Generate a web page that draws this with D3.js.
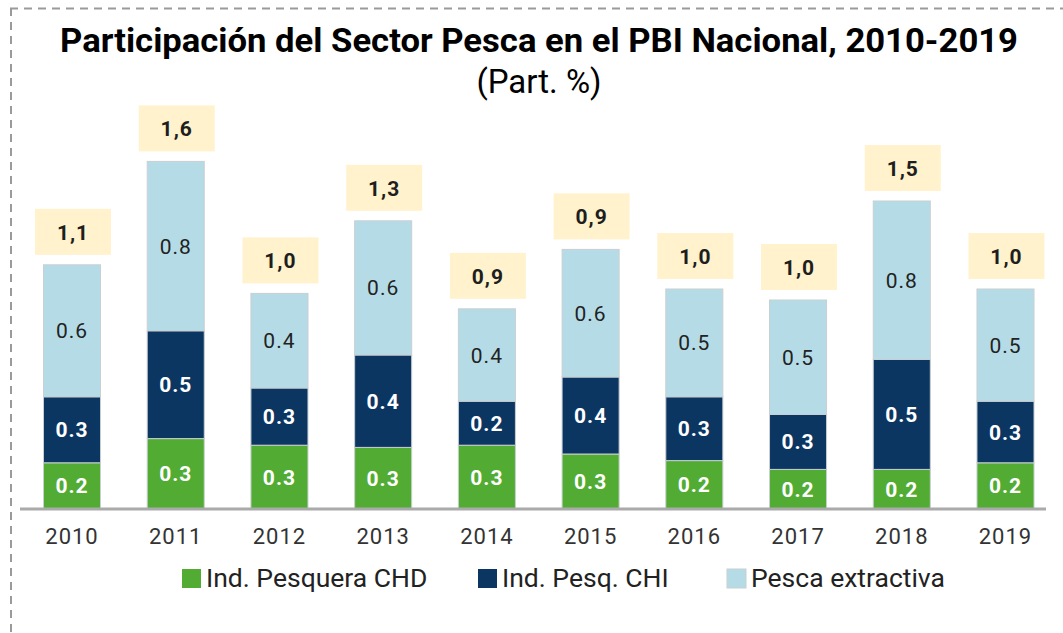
<!DOCTYPE html>
<html><head><meta charset="utf-8">
<script src="https://cdn.jsdelivr.net/npm/d3@7"></script>
<style>
html,body{margin:0;padding:0;background:#fff;}
text{font-family:Roboto,"Noto Sans",sans-serif;}
</style></head>
<body><svg id="c" width="1063" height="633"></svg>
<script>
const years = ["2010","2011","2012","2013","2014","2015","2016","2017","2018","2019"];
const chd = [0.21,0.32,0.29,0.28,0.29,0.25,0.22,0.18,0.18,0.21];
const chi = [0.30,0.49,0.26,0.42,0.20,0.35,0.29,0.25,0.50,0.28];
const extractiva = [0.60,0.77,0.43,0.61,0.42,0.58,0.49,0.52,0.72,0.51];
const chdLabels = ["0.2","0.3","0.3","0.3","0.3","0.3","0.2","0.2","0.2","0.2"];
const chiLabels = ["0.3","0.5","0.3","0.4","0.2","0.4","0.3","0.3","0.5","0.3"];
const extLabels = ["0.6","0.8","0.4","0.6","0.4","0.6","0.5","0.5","0.8","0.5"];
const totalLabels = ["1,1","1,6","1,0","1,3","0,9","0,9","1,0","1,0","1,5","1,0"];
const seriesNames = ["Ind. Pesquera CHD","Ind. Pesq. CHI","Pesca extractiva"];
const colors = ["#52ac34","#0b3662","#b5dce6"];
const labelColors = ["#ffffff","#ffffff","#222222"];

const svg = d3.select("#c");
// dashed frame
svg.append("line").attr("x1",10).attr("y1",8.5).attr("x2",1063).attr("y2",8.5)
  .attr("stroke","#9a9a9a").attr("stroke-width",2).attr("stroke-dasharray","8,6");
svg.append("line").attr("x1",11).attr("y1",8).attr("x2",11).attr("y2",633)
  .attr("stroke","#9a9a9a").attr("stroke-width",2).attr("stroke-dasharray","8,6");

svg.append("text").attr("x",539).attr("y",52).attr("text-anchor","middle")
  .attr("font-size",33).attr("font-weight","bold").attr("fill","#000")
  .attr("textLength",958).attr("lengthAdjust","spacingAndGlyphs")
  .text("Participación del Sector Pesca en el PBI Nacional, 2010-2019");
svg.append("text").attr("x",539).attr("y",93).attr("text-anchor","middle")
  .attr("font-size",33).attr("fill","#000").text("(Part. %)");

const data = years.map((y,i)=>({year:y, chd:chd[i], chi:chi[i], ext:extractiva[i]}));
const keys = ["chd","chi","ext"];
const labs = {chd:chdLabels, chi:chiLabels, ext:extLabels};
const stack = d3.stack().keys(keys)(data);

const x = d3.scaleBand().domain(years).range([20.15,1057.35]).paddingInner(0.45).paddingOuter(0.225);
const y = d3.scaleLinear().domain([0,1.6]).range([509,157]);

const g = svg.append("g");
stack.forEach((s,si)=>{
  g.selectAll(null).data(s).enter().append("rect")
    .attr("x",d=>x(d.data.year)).attr("width",x.bandwidth())
    .attr("y",d=>y(d[1])).attr("height",d=>y(d[0])-y(d[1]))
    .attr("fill",colors[si]).attr("stroke","#c9cfd2").attr("stroke-width",1);
  g.selectAll(null).data(s).enter().append("text")
    .attr("x",d=>x(d.data.year)+x.bandwidth()/2)
    .attr("y",d=>(y(d[0])+y(d[1]))/2+7.5)
    .attr("text-anchor","middle").attr("font-size",21)
    .attr("font-weight",si<2?"bold":"normal").attr("letter-spacing",1)
    .attr("fill",labelColors[si])
    .text((d,i)=>labs[keys[si]][i]);
});

// total label boxes
const topLayer = stack[2];
g.selectAll(null).data(topLayer).enter().append("rect")
  .attr("x",d=>x(d.data.year)+x.bandwidth()/2-37).attr("width",76)
  .attr("y",d=>y(d[1])-56).attr("height",46).attr("fill","#fff2cc");
g.selectAll(null).data(topLayer).enter().append("text")
  .attr("x",d=>x(d.data.year)+x.bandwidth()/2+1)
  .attr("y",d=>y(d[1])-25)
  .attr("text-anchor","middle").attr("font-size",21).attr("font-weight","bold")
  .attr("letter-spacing",1).attr("fill","#1e1e1e")
  .text((d,i)=>totalLabels[i]);

// axis
const ax = svg.append("g").attr("transform","translate(0,509)")
  .call(d3.axisBottom(x).tickSize(0).tickPadding(19));
ax.select(".domain").attr("stroke","#aaaaaa").attr("stroke-width",3)
  .attr("d","M20,0H1046");
ax.selectAll("text").attr("font-size",22).attr("fill","#333").attr("letter-spacing",1)
  .attr("font-family","Roboto").attr("dy","0.71em");

// legend
const legX = [182,478,727];
const lg = svg.append("g");
seriesNames.forEach((n,i)=>{
  lg.append("rect").attr("x",legX[i]).attr("y",569).attr("width",19).attr("height",19)
    .attr("fill",colors[i]).attr("stroke",i==2?"#c9cfd2":"none");
  lg.append("text").attr("x",legX[i]+24).attr("y",587).attr("font-size",26.5)
    .attr("fill","#222").text(n);
});
</script></body></html>
